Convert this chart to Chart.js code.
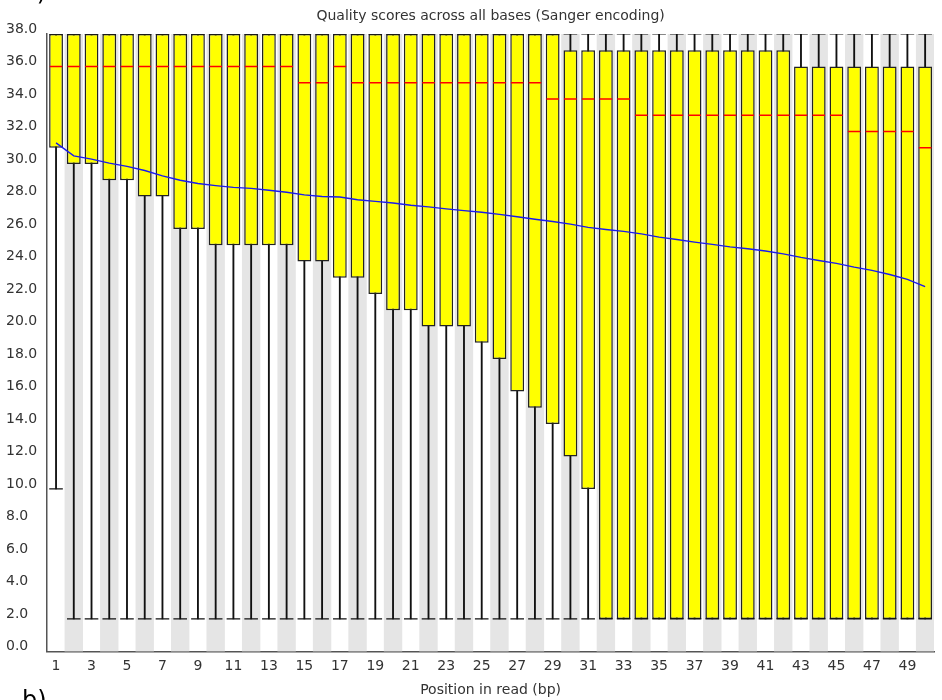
<!DOCTYPE html>
<html>
<head>
<meta charset="utf-8">
<title>Quality scores across all bases</title>
<script src="https://cdn.jsdelivr.net/npm/chart.js@4.4.1/dist/chart.umd.min.js"></script>
<style>
    html, body { margin: 0; padding: 0; background: #fff; }
    #wrap { width: 942px; height: 700px; }
</style>
</head>
<body>
<div id="wrap"><canvas id="qualityChart" width="942" height="700"></canvas></div>
<script>
// 讀長位置 (bp)
const positions = [
    '1', '2', '3', '4', '5', '6', '7', '8', '9', '10',
    '11', '12', '13', '14', '15', '16', '17', '18', '19', '20',
    '21', '22', '23', '24', '25', '26', '27', '28', '29', '30',
    '31', '32', '33', '34', '35', '36', '37', '38', '39', '40',
    '41', '42', '43', '44', '45', '46', '47', '48', '49', '50'
];

// 10% 鬚線
const lowWhisker = [
    10, 2, 2, 2, 2, 2, 2, 2, 2, 2,
    2, 2, 2, 2, 2, 2, 2, 2, 2, 2,
    2, 2, 2, 2, 2, 2, 2, 2, 2, 2,
    2, 2, 2, 2, 2, 2, 2, 2, 2, 2,
    2, 2, 2, 2, 2, 2, 2, 2, 2, 2
];

// 90% 鬚線
const highWhisker = [
    38, 38, 38, 38, 38, 38, 38, 38, 38, 38,
    38, 38, 38, 38, 38, 38, 38, 38, 38, 38,
    38, 38, 38, 38, 38, 38, 38, 38, 38, 38,
    38, 38, 38, 38, 38, 38, 38, 38, 38, 38,
    38, 38, 38, 38, 38, 38, 38, 38, 38, 38
];

// 下四分位 (box 底)
const lowerQuartile = [
    31, 30, 30, 29, 29, 28, 28, 26, 26, 25,
    25, 25, 25, 25, 24, 24, 23, 23, 22, 21,
    21, 20, 20, 20, 19, 18, 16, 15, 14, 12,
    10, 2, 2, 2, 2, 2, 2, 2, 2, 2,
    2, 2, 2, 2, 2, 2, 2, 2, 2, 2
];

// 上四分位 (box 頂)
const upperQuartile = [
    38, 38, 38, 38, 38, 38, 38, 38, 38, 38,
    38, 38, 38, 38, 38, 38, 38, 38, 38, 38,
    38, 38, 38, 38, 38, 38, 38, 38, 38, 37,
    37, 37, 37, 37, 37, 37, 37, 37, 37, 37,
    37, 37, 36, 36, 36, 36, 36, 36, 36, 36
];

// 中位數
const medians = [
    36, 36, 36, 36, 36, 36, 36, 36, 36, 36,
    36, 36, 36, 36, 35, 35, 36, 35, 35, 35,
    35, 35, 35, 35, 35, 35, 35, 35, 34, 34,
    34, 34, 34, 33, 33, 33, 33, 33, 33, 33,
    33, 33, 33, 33, 33, 32, 32, 32, 32, 31
];

// 平均值
const means = [
    31.3, 30.5, 30.3, 30.05, 29.85, 29.6, 29.27, 29.0, 28.8, 28.67,
    28.56, 28.5, 28.38, 28.26, 28.1, 28.0, 27.97, 27.8, 27.7, 27.6,
    27.46, 27.36, 27.24, 27.13, 27.03, 26.9, 26.75, 26.6, 26.46, 26.3,
    26.1, 25.97, 25.85, 25.7, 25.5, 25.35, 25.19, 25.05, 24.9, 24.78,
    24.64, 24.47, 24.25, 24.06, 23.88, 23.65, 23.45, 23.2, 22.9, 22.45
];

// 軸設定
const yMin = 0;
const yMax = 38;
const yStep = 2;
const chartTitle = 'Quality scores across all bases (Sanger encoding)';
const xTitle = 'Position in read (bp)';

const fontFamily = '"DejaVu Sans", Verdana, sans-serif';

// 浮動長條資料
const bandRange = positions.map(() => [yMin, yMax]);
const bandColors = positions.map((p, i) => (i % 2 === 1 ? '#e5e5e5' : 'rgba(255,255,255,0)'));
const whiskerRange = positions.map((p, i) => [lowWhisker[i], highWhisker[i]]);
const boxRange = positions.map((p, i) => [lowerQuartile[i], upperQuartile[i]]);

// 標題與面板字母
const panelText = {
    id: 'panelText',
    afterDraw(chart) {
        const {ctx, chartArea} = chart;
        ctx.save();
        ctx.fillStyle = '#333';
        ctx.font = '14px ' + fontFamily;
        ctx.textAlign = 'center';
        ctx.textBaseline = 'middle';
        ctx.fillText(chartTitle, (chartArea.left + chartArea.right) / 2, 16);
        ctx.fillStyle = '#000';
        ctx.font = '24px ' + fontFamily;
        ctx.textAlign = 'left';
        ctx.textBaseline = 'alphabetic';
        ctx.fillText('a)', 22, 0);
        ctx.fillText('b)', 22, 708);
        ctx.restore();
    }
};

const capStyle = {
    type: 'line',
    showLine: false,
    pointStyle: 'line',
    pointRadius: 6.8,
    pointHoverRadius: 6.8,
    pointBorderColor: '#111',
    pointBorderWidth: 1.2,
    order: 3
};

const qualityChart = new Chart(document.getElementById('qualityChart'), {
    type: 'bar',
    data: {
        labels: positions,
        datasets: [
            {
                label: 'band',
                data: bandRange,
                backgroundColor: bandColors,
                borderWidth: 0,
                barPercentage: 1,
                categoryPercentage: 1,
                grouped: false,
                order: 6
            },
            {
                label: 'whisker',
                data: whiskerRange,
                backgroundColor: '#111',
                borderWidth: 0,
                barThickness: 1.2,
                grouped: false,
                order: 5
            },
            {
                label: 'IQR',
                data: boxRange,
                backgroundColor: '#ffff00',
                borderColor: '#222',
                borderWidth: 1.5,
                borderSkipped: false,
                barPercentage: 0.78,
                categoryPercentage: 1,
                grouped: false,
                order: 4
            },
            Object.assign({label: '10%', data: lowWhisker}, capStyle),
            Object.assign({label: '90%', data: highWhisker}, capStyle),
            {
                type: 'line',
                label: 'median',
                data: medians,
                showLine: false,
                pointStyle: 'line',
                pointRadius: 6.3,
                pointHoverRadius: 6.3,
                pointBorderColor: '#ff0000',
                pointBorderWidth: 1.5,
                order: 2
            },
            {
                type: 'line',
                label: 'mean',
                data: means,
                borderColor: '#1a1aee',
                borderWidth: 1.4,
                pointRadius: 0,
                tension: 0,
                fill: false,
                order: 1
            }
        ]
    },
    options: {
        responsive: false,
        animation: false,
        events: [],
        layout: {
            padding: {top: 34, right: 7, bottom: 0, left: 6}
        },
        plugins: {
            legend: {display: false},
            tooltip: {enabled: false},
            title: {display: false}
        },
        scales: {
            x: {
                grid: {display: false, drawTicks: false},
                border: {display: true, color: '#555', width: 1.5},
                ticks: {
                    autoSkip: false,
                    maxRotation: 0,
                    padding: 7,
                    color: '#333',
                    font: {family: fontFamily, size: 14},
                    callback: (v, i) => (i % 2 === 0 ? positions[i] : '')
                },
                title: {
                    display: true,
                    text: xTitle,
                    color: '#333',
                    font: {family: fontFamily, size: 14},
                    padding: {top: 0, bottom: 1}
                }
            },
            y: {
                min: yMin,
                max: yMax,
                grid: {display: false, drawTicks: false},
                border: {display: true, color: '#555', width: 1.5},
                ticks: {
                    stepSize: yStep,
                    crossAlign: 'far',
                    padding: 5,
                    labelOffset: -5,
                    color: '#333',
                    font: {family: fontFamily, size: 14},
                    callback: v => v.toFixed(1)
                }
            }
        }
    },
    plugins: [panelText]
});
</script>
</body>
</html>
